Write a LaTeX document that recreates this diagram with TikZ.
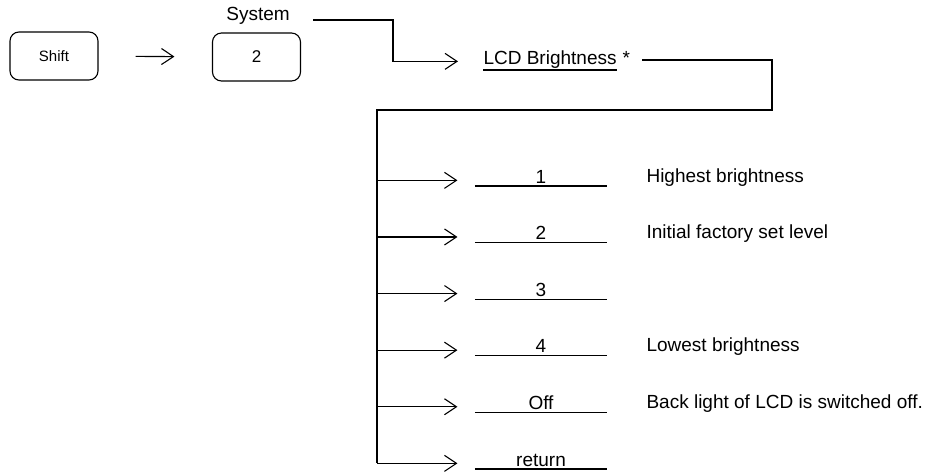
\documentclass[tikz,border=0pt]{standalone}
\usepackage{fontspec}
\setmainfont{Liberation Sans}
\usetikzlibrary{arrows.meta}
\begin{document}
\begin{tikzpicture}[x=1pt,y=-1pt, line width=1.1pt,
  arr/.style={-{Straight Barb[length=12pt,width=16pt,line width=1.1pt]}},
  key/.style={draw, rounded corners=9pt, minimum width=88pt, minimum height=48pt, inner sep=0pt},
  txt/.style={font=\fontsize{19}{21}\selectfont, inner sep=0pt},
  opt/.style={txt, minimum width=131pt, anchor=base},
  desc/.style={txt, anchor=base west}]
\useasboundingbox (0,0) rectangle (927,474);
% keys
\node[key, font=\fontsize{15}{17}\selectfont] (shift) at (54,56) {Shift};
\node[key, font=\fontsize{17}{19}\selectfont] (two) at (256.5,57) {2};
\node[txt] (sys) at (258,16) {System};
\draw[arr, shorten <=37pt, shorten >=37.5pt] (shift) -- (two);
% LCD Brightness
\node[txt, anchor=base west] (lcd) at (483,64) {LCD Brightness};
\node[txt, anchor=base west] (star) at (622,64) {*};
\draw ([yshift=-6pt]lcd.base west) -- ([yshift=-6pt]lcd.base east);
\coordinate (s0) at (313,20);
\coordinate (s1) at (393,20);
\draw[arr, shorten >=25pt] (s0) -- (s1) |- (lcd.mid west);
% right connector and bus
\coordinate (c0) at (642,60);
\coordinate (c1) at (772,60);
\coordinate (c2) at (772,110);
\coordinate (bus) at (377,110);
% options
\foreach \i/\y/\t in {1/177/1, 2/233.6/2, 3/290.2/3, 4/346.8/4, 5/403.4/Off, 6/460/return}{
  \node[opt] (o\i) at (541,\y+6) {\t};
  \draw ([yshift=-3pt]o\i.base -| o\i.west) -- ([yshift=-3pt]o\i.base -| o\i.east);
  \draw[arr, shorten >=17.5pt] (bus |- o\i.mid) -- (o\i.mid west);
}
\draw (c0) -- (c1) -- (c2) -- (bus) -- (bus |- o6.mid);
% descriptions
\node[desc] (d1) at (646,182) {Highest brightness};
\node[desc] (d2) at (646,238.6) {Initial factory set level};
\node[desc] (d4) at (646,351.8) {Lowest brightness};
\node[desc] (d5) at (646,408.4) {Back light of LCD is switched off.};
\end{tikzpicture}
\end{document}
